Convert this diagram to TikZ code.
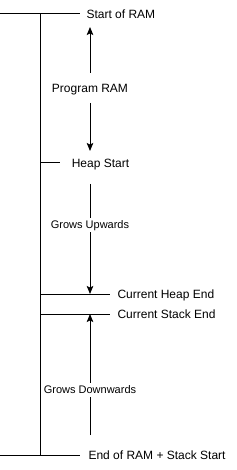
\documentclass[tikz,border=0pt]{standalone}
\usepackage{fontspec}
\setmainfont{Liberation Sans}
\usetikzlibrary{arrows.meta}

\begin{document}
\begin{tikzpicture}[x=1pt,y=-1pt,line width=1pt,>={Stealth[length=8pt,width=6.5pt,inset=1.5pt]},
  lbl/.style={font=\fontsize{12}{14}\selectfont,inner sep=2pt,text height=8.6pt,text depth=0pt},
  edgelbl/.style={font=\fontsize{11}{13}\selectfont,fill=white,inner xsep=1.5pt,inner ysep=3pt,text height=7.9pt,text depth=0pt}]
  \useasboundingbox (0,0) rectangle (236,470);
  % memory map axis
  \coordinate (axtop) at (40,14);
  \coordinate (axbot) at (40,455);
  \draw (axtop) -- (axbot);
  % markers and their labels
  \coordinate (topL) at (0,14);
  \coordinate (topR) at (80,14);
  \node[lbl,anchor=west] (sram) at (84,14) {Start of RAM};
  \draw (topL) -- (topR);
  \coordinate (hsL) at (40,163);
  \coordinate (hsR) at (60,163);
  \node[lbl] (hstart) at (100.5,163) {Heap Start};
  \draw (hsL) -- (hsR);
  \coordinate (heL) at (40,294);
  \coordinate (heR) at (110,294);
  \node[lbl,anchor=west] (hend) at (115,294) {Current Heap End};
  \draw (heL) -- (heR);
  \coordinate (seL) at (40,314);
  \coordinate (seR) at (110,314);
  \node[lbl,anchor=west] (send) at (115,314) {Current Stack End};
  \draw (seL) -- (seR);
  \coordinate (botL) at (0,455);
  \coordinate (botR) at (80,455);
  \node[lbl,anchor=west] (eram) at (86,455) {End of RAM + Stack Start};
  \draw (botL) -- (botR);
  % region arrows
  \node[lbl,minimum height=29pt] (prog) at (90,88) {Program RAM};
  \coordinate (progtop) at (90,27);
  \coordinate (progbot) at (90,151);
  \draw[->] (prog) -- (progtop);
  \draw[->] (prog) -- (progbot);
  \coordinate (upfrom) at (90,184);
  \coordinate (upto) at (90,294);
  \draw[->] (upfrom) -- node[edgelbl,pos=.37] (gup) {Grows Upwards} (upto);
  \coordinate (downfrom) at (90,435);
  \coordinate (downto) at (90,314);
  \draw[->] (downfrom) -- node[edgelbl,pos=.375] (gdown) {Grows Downwards} (downto);
\end{tikzpicture}
\end{document}
